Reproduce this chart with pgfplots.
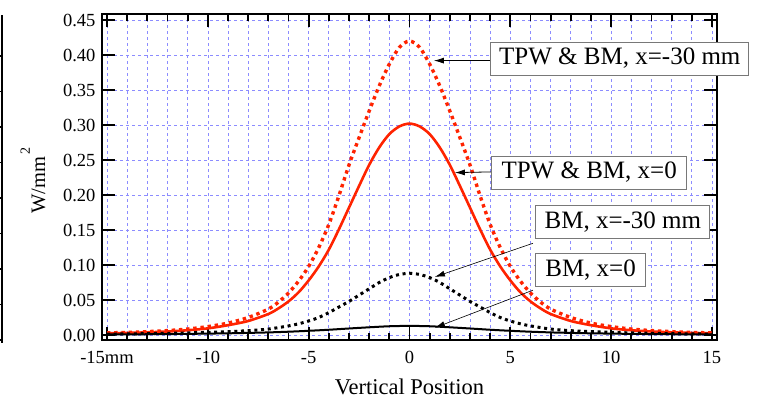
\documentclass[border=0pt]{standalone}
\usepackage{fontspec}
\setmainfont{Liberation Serif}
\usepackage{pgfplots}
\pgfplotsset{compat=1.18}
\usetikzlibrary{arrows.meta}
\definecolor{cred}{RGB}{255,35,0}
\definecolor{cgrid}{RGB}{140,140,255}
\definecolor{cbox}{RGB}{120,120,120}
\begin{document}
\begin{tikzpicture}[x=1pt,y=1pt]
\useasboundingbox (0,0) rectangle (757,401);
% cropped neighbouring axis at the left edge
\draw[line width=2pt] (1.5,58) -- (1.5,386);
\foreach \yy in {61,96.5,132,167.5,203,238.5,274,309.5,345}{\draw[line width=1.6pt] (0,\yy) -- (3,\yy);}
\begin{axis}[
  at={(102pt,61pt)}, anchor=south west,
  scale only axis, width=615pt, height=326pt,
  xmin=-15.25, xmax=15.25, ymin=-0.00714, ymax=0.4586,
  clip=false,
  axis line style={line width=2.2pt},
  tick align=inside,
  major tick length=13pt, minor tick length=7pt,
  every tick/.style={black, line width=1.8pt},
  xtick={-15,-10,-5,0,5,10,15},
  xticklabels={-15mm,-10,-5,0,5,10,15},
  minor x tick num=4,
  ytick={0,0.05,0.10,0.15,0.20,0.25,0.30,0.35,0.40,0.45},
  yticklabel style={/pgf/number format/.cd, fixed, fixed zerofill, precision=2, /tikz/.cd},
  /pgf/number format/assume math mode=true,
  tick label style={font=\fontsize{18.5}{20}\selectfont},
  xticklabel style={yshift=-8pt},
  yticklabel style={xshift=-3pt},
  xmajorgrids, xminorgrids, ymajorgrids,
  grid style={cgrid, dash pattern=on 3pt off 3pt, line width=0.7pt},
  minor grid style={cgrid, dash pattern=on 3pt off 3pt, line width=0.7pt},
  xlabel={Vertical Position},
  ylabel={W/mm\raisebox{0.75em}{\fontsize{14}{14}\selectfont\,2}},
  every axis x label/.style={at={(axis description cs:0.5,-0.1442)}, anchor=center, font=\fontsize{22.5}{24}\selectfont},
  every axis y label/.style={at={(axis description cs:-0.1122,0.49)}, anchor=center, rotate=90, font=\fontsize{20.5}{22}\selectfont},
]
% TPW & BM, x=-30 mm (red dotted)
\addplot[cred, line width=3.4pt, dash pattern=on 3.4pt off 3.8pt, smooth] coordinates {
(-15,0.003) (-14,0.0037) (-13,0.0048) (-12,0.0063) (-11,0.0085) (-10,0.012) (-9,0.017) (-8,0.025) (-7,0.037) (-6.5,0.047) (-6,0.060) (-5.5,0.077) (-5,0.098) (-4.5,0.125) (-4,0.158) (-3.5,0.199) (-3,0.243) (-2.5,0.282) (-2,0.320) (-1.5,0.356) (-1,0.387) (-0.5,0.411) (0,0.420)
(0.5,0.411) (1,0.387) (1.5,0.356) (2,0.320) (2.5,0.282) (3,0.243) (3.5,0.199) (4,0.158) (4.5,0.125) (5,0.098) (5.5,0.077) (6,0.060) (6.5,0.047) (7,0.037) (8,0.025) (9,0.017) (10,0.012) (11,0.0085) (12,0.0063) (13,0.0048) (14,0.0037) (15,0.003)
};
% TPW & BM, x=0 (red solid)
\addplot[cred, line width=2.6pt, smooth] coordinates {
(-15,0.0024) (-14,0.003) (-13,0.0038) (-12,0.005) (-11,0.0068) (-10,0.0095) (-9,0.014) (-8,0.020) (-7,0.030) (-6.5,0.038) (-6,0.048) (-5.5,0.061) (-5,0.078) (-4.5,0.098) (-4,0.122) (-3.5,0.151) (-3,0.182) (-2.5,0.213) (-2,0.243) (-1.5,0.268) (-1,0.287) (-0.5,0.298) (0,0.302)
(0.5,0.298) (1,0.287) (1.5,0.268) (2,0.243) (2.5,0.213) (3,0.182) (3.5,0.151) (4,0.122) (4.5,0.098) (5,0.078) (5.5,0.061) (6,0.048) (6.5,0.038) (7,0.030) (8,0.020) (9,0.014) (10,0.0095) (11,0.0068) (12,0.005) (13,0.0038) (14,0.003) (15,0.0024)
};
% BM, x=-30 mm (black dotted)
\addplot[black, line width=3pt, dash pattern=on 3pt off 3.7pt, smooth] coordinates {
(-15,0.0013) (-14,0.0016) (-13,0.002) (-12,0.0024) (-11,0.003) (-10,0.0038) (-9,0.0048) (-8,0.0062) (-7,0.0085) (-6,0.013) (-5.5,0.016) (-5,0.020) (-4.5,0.025) (-4,0.032) (-3.5,0.040) (-3,0.048) (-2.5,0.057) (-2,0.066) (-1.5,0.075) (-1,0.082) (-0.5,0.0865) (0,0.088)
(0.5,0.0865) (1,0.082) (1.5,0.075) (2,0.066) (2.5,0.057) (3,0.048) (3.5,0.040) (4,0.032) (4.5,0.025) (5,0.020) (5.5,0.016) (6,0.013) (7,0.0085) (8,0.0062) (9,0.0048) (10,0.0038) (11,0.003) (12,0.0024) (13,0.002) (14,0.0016) (15,0.0013)
};
% BM, x=0 (black solid)
\addplot[black, line width=2pt, smooth] coordinates {
(-15,0.0008) (-14,0.0009) (-13,0.0011) (-12,0.0013) (-11,0.0016) (-10,0.002) (-9,0.0024) (-8,0.003) (-7,0.0037) (-6,0.0047) (-5,0.006) (-4,0.0075) (-3,0.0093) (-2,0.011) (-1,0.0125) (0,0.013)
(1,0.0125) (2,0.011) (3,0.0093) (4,0.0075) (5,0.006) (6,0.0047) (7,0.0037) (8,0.003) (9,0.0024) (10,0.002) (11,0.0016) (12,0.0013) (13,0.0011) (14,0.0009) (15,0.0008)
};
% annotations
\draw[black, line width=0.8pt, -{Latex[length=10pt,width=6pt]}] (axis cs:4.04,0.392) -- (axis cs:1.21,0.392);
\draw[black, line width=0.8pt, -{Latex[length=10pt,width=6pt]}] (axis cs:4.07,0.233) -- (axis cs:2.25,0.232);
\draw[black, line width=0.6pt, -{Latex[length=10pt,width=6pt]}] (axis cs:6.12,0.131) -- (axis cs:1.26,0.083);
\draw[black, line width=0.6pt, -{Latex[length=10pt,width=6pt]}] (axis cs:6.12,0.064) -- (axis cs:1.26,0.0104);
\tikzset{bx/.style={draw=cbox, line width=1pt, fill=white, inner sep=0pt, minimum height=33pt, font=\fontsize{25}{27}\selectfont, anchor=center}}
\node[bx, minimum width=258pt] at (axis cs:10.43,0.395) {TPW \& BM, x=-30 mm};
\node[bx, minimum width=195pt] at (axis cs:8.91,0.232) {TPW \& BM, x=0};
\node[bx, minimum width=174pt] at (axis cs:10.58,0.161) {BM, x=-30 mm};
\node[bx, minimum width=110pt] at (axis cs:8.98,0.0924) {BM, x=0};
\end{axis}
\end{tikzpicture}
\end{document}
